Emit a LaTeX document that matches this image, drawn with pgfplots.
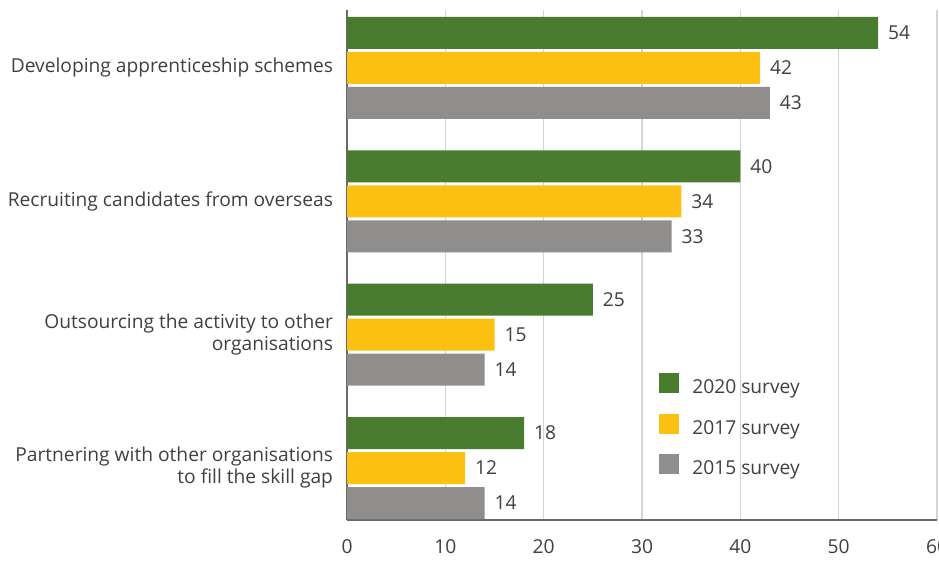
\documentclass[border=0pt]{standalone}
\usepackage{pgfplots}
\pgfplotsset{compat=1.18}
\usepackage{fontspec}
\setmainfont{Open Sans}
\definecolor{cgreen}{HTML}{4A7C2F}
\definecolor{cyellow}{HTML}{FCC012}
\definecolor{cgray}{HTML}{8F8E8C}
\definecolor{ctext}{HTML}{404040}
\definecolor{cgrid}{HTML}{D4D4D4}
\definecolor{caxis}{HTML}{6A6A6A}
\newcommand{\lblfont}{\fontsize{14.4}{16.5}\selectfont}
\begin{document}
\begin{tikzpicture}
\begin{axis}[name=ax, scale only axis, width=442.5pt, height=382.5pt,
  xbar, bar width=0.24,
  xmin=0, xmax=60, ymin=-0.39, ymax=3.435,
  xtick={0,10,...,60}, ytick={0,1,2,3},
  yticklabels={{Partnering with other organisations\\to fill the skill gap},{Outsourcing the activity to other\\organisations},{Recruiting candidates from overseas},{Developing apprenticeship schemes}},
  axis x line*=bottom, axis y line*=left,
  axis line style={draw=caxis, line width=1.5pt, -},
  major tick length=0pt,
  xmajorgrids, grid style={cgrid, line width=1pt},
  /pgf/number format/assume math mode=true,
  tick label style={font=\lblfont, text=ctext},
  yticklabel style={align=right, xshift=-7pt},
  xticklabel style={yshift=-11pt},
  nodes near coords,
  nodes near coords style={font=\lblfont, text=ctext, xshift=4pt, /pgf/number format/assume math mode=true},
  legend style={at={(axis cs:31.3,0.735)}, anchor=north west, draw=none, fill=none,
    font=\lblfont, text=ctext, row sep=11.5pt,
    /tikz/every odd column/.append style={column sep=8pt}},
  legend cell align=left,
  legend image code/.code={\fill[#1,/tikz/.cd] (0pt,-4pt) rectangle (15pt,11pt);},
]
\addplot[fill=cgreen, draw=none, bar shift=0.2625] coordinates {(18,0) (25,1) (40,2) (54,3)};
\addplot[fill=cyellow, draw=none, bar shift=0] coordinates {(12,0) (15,1) (34,2) (42,3)};
\addplot[fill=cgray, draw=none, bar shift=-0.2625] coordinates {(14,0) (14,1) (33,2) (43,3)};
\legend{2020 survey, 2017 survey, 2015 survey}
\end{axis}
\pgfresetboundingbox
\path ([xshift=-260.25pt,yshift=-32.25pt]ax.south west) rectangle ([xshift=1.5pt,yshift=7.5pt]ax.north east);
\end{tikzpicture}
\end{document}
